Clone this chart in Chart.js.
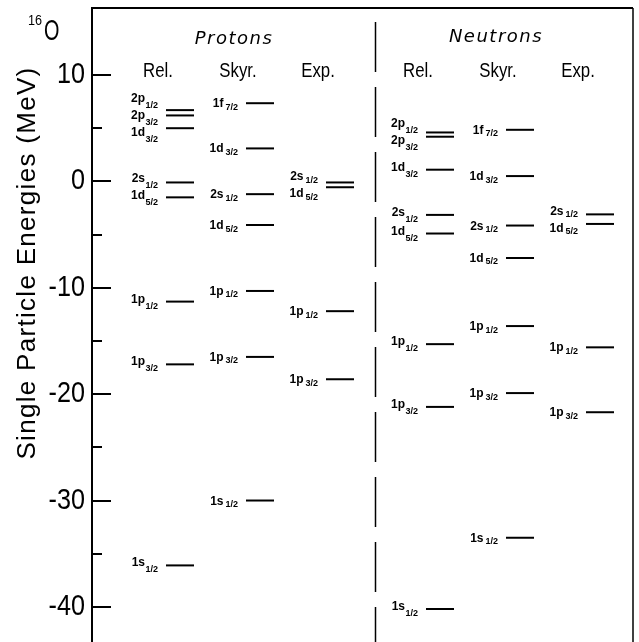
<!DOCTYPE html>
<html><head><meta charset="utf-8">
<script src="https://cdn.jsdelivr.net/npm/chart.js@4.4.1/dist/chart.umd.min.js"></script>
<style>html,body{margin:0;padding:0;background:#fff;}canvas{display:block;}</style>
</head><body>
<canvas id="c" width="639" height="642"></canvas>
<script>
// ---- data ----
const groupTitles = ['Protons', 'Neutrons'];
const columnTitles = ['Rel.', 'Skyr.', 'Exp.', 'Rel.', 'Skyr.', 'Exp.'];

const pRelNames  = ['2p1/2', '2p3/2', '1d3/2', '2s1/2', '1d5/2', '1p1/2', '1p3/2', '1s1/2'];
const pRelE      = [6.7, 6.2, 5.0, -0.1, -1.5, -11.3, -17.2, -36.1];
const pSkyrNames = ['1f7/2', '1d3/2', '2s1/2', '1d5/2', '1p1/2', '1p3/2', '1s1/2'];
const pSkyrE     = [7.35, 3.1, -1.2, -4.1, -10.3, -16.5, -30.0];
const pExpNames  = ['2s1/2', '1d5/2', '1p1/2', '1p3/2'];
const pExpE      = [-0.1, -0.55, -12.2, -18.6];

const nRelNames  = ['2p1/2', '2p3/2', '1d3/2', '2s1/2', '1d5/2', '1p1/2', '1p3/2', '1s1/2'];
const nRelE      = [4.6, 4.2, 1.1, -3.15, -4.9, -15.3, -21.2, -40.2];
const nSkyrNames = ['1f7/2', '1d3/2', '2s1/2', '1d5/2', '1p1/2', '1p3/2', '1s1/2'];
const nSkyrE     = [4.85, 0.5, -4.15, -7.2, -13.6, -19.9, -33.5];
const nExpNames  = ['2s1/2', '1d5/2', '1p1/2', '1p3/2'];
const nExpE      = [-3.1, -4.0, -15.6, -21.7];

const majorTicks = [10, 0, -10, -20, -30, -40];
const minorTicks = [5, -5, -15, -25, -35];
const yTitle = 'Single Particle Energies (MeV)';
const nucleusMass = '16', nucleusSym = 'O';

// ---- layout (not data) ----
const colNames = [pRelNames, pSkyrNames, pExpNames, nRelNames, nSkyrNames, nExpNames];
const colE = [pRelE, pSkyrE, pExpE, nRelE, nSkyrE, nExpE];
const colX = i => i + 1.1 + (i >= 3 ? 0.25 : 0);
const halfW = 0.175;
const dividerX = 3.54;

const datasets = [];
colE.forEach((arr, ci) => {
  arr.forEach(e => {
    datasets.push({
      data: [{x: colX(ci) - halfW, y: e}, {x: colX(ci) + halfW, y: e}],
      showLine: true, borderColor: '#000', borderWidth: 2, pointRadius: 0, fill: false
    });
  });
});

const SANS = '"Liberation Sans",Arimo,Arial,sans-serif';

function spread(ys, gap) {
  let cl = ys.map((y, i) => ({idx: [i], ys: [y], c: y})).sort((a, b) => a.c - b.c);
  let changed = true;
  while (changed) {
    changed = false;
    for (let k = 0; k < cl.length - 1; k++) {
      const A = cl[k], B = cl[k + 1];
      const aEnd = A.c + (A.idx.length - 1) * gap / 2;
      const bStart = B.c - (B.idx.length - 1) * gap / 2;
      if (bStart - aEnd < gap - 0.01) {
        const idx = A.idx.concat(B.idx), yy = A.ys.concat(B.ys);
        const m = yy.reduce((s, v) => s + v, 0) / yy.length;
        const pairs = idx.map((ii, j) => [ii, yy[j]]).sort((p, q) => p[1] - q[1]);
        cl.splice(k, 2, {idx: pairs.map(p => p[0]), ys: pairs.map(p => p[1]), c: m});
        changed = true; break;
      }
    }
  }
  const out = new Array(ys.length);
  cl.forEach(C => {
    const n = C.idx.length;
    C.idx.forEach((ii, j) => { out[ii] = C.c + (j - (n - 1) / 2) * gap; });
  });
  return out;
}

// draw horizontally condensed text
function nText(ctx, str, x, y, font, align, sx) {
  ctx.save();
  ctx.font = font;
  ctx.textAlign = align;
  ctx.translate(x, y);
  ctx.scale(sx, 1);
  ctx.fillText(str, 0, 0);
  ctx.restore();
}

const drawPlugin = {
  id: 'drawExtras',
  afterDraw(chart) {
    const {ctx, chartArea: a, scales: {x, y}} = chart;
    ctx.save();
    ctx.strokeStyle = '#000'; ctx.fillStyle = '#000';
    const seg = (x1, y1, x2, y2) => { ctx.beginPath(); ctx.moveTo(x1, y1); ctx.lineTo(x2, y2); ctx.stroke(); };
    // tick marks and tick labels
    ctx.lineWidth = 2;
    majorTicks.forEach(v => {
      const py = Math.round(y.getPixelForValue(v));
      seg(a.left, py, a.left + 19, py);
      ctx.textBaseline = 'middle';
      nText(ctx, String(v), a.left - 7, py, '30px ' + SANS, 'right', 0.84);
    });
    minorTicks.forEach(v => { const py = Math.round(y.getPixelForValue(v)); seg(a.left, py, a.left + 10, py); });
    ctx.textBaseline = 'alphabetic';
    // frame
    seg(a.left - 1, a.top, a.right, a.top);
    ctx.lineWidth = 1.5;
    seg(a.right, a.top, a.right, chart.height);
    // divider
    ctx.lineWidth = 1.5;
    ctx.setLineDash([50, 15]);
    const dx = Math.round(x.getPixelForValue(dividerX)) + 0.5;
    seg(dx, 22, dx, chart.height);
    ctx.setLineDash([]);

    // group and column titles
    ctx.textAlign = 'center';
    ctx.font = 'oblique 18px "DejaVu Sans",sans-serif';
    ctx.letterSpacing = '1.5px';
    ctx.fillText(groupTitles[0], x.getPixelForValue(colX(1)) - 26, 44);
    ctx.fillText(groupTitles[1], x.getPixelForValue(colX(4)) - 24, 42);
    ctx.letterSpacing = '0px';
    columnTitles.forEach((t, i) => {
      nText(ctx, t, x.getPixelForValue(colX(i)) - 22, 77, '20px ' + SANS, 'center', 0.84);
    });

    // level labels
    colNames.forEach((names, ci) => {
      const isRel = (ci % 3 === 0);
      const pys = colE[ci].map(e => y.getPixelForValue(e));
      const ly = spread(pys, 17);
      const right = x.getPixelForValue(colX(ci) - halfW) - 8;
      names.forEach((nm, k) => {
        const main = nm.slice(0, 2), sub = nm.slice(2);
        ctx.font = 'bold 9px ' + SANS;
        const ws = ctx.measureText(sub).width;
        ctx.font = 'bold 12px ' + SANS;
        const gap = isRel ? 0.5 : 2;
        ctx.textAlign = 'right';
        const yy = ly[k];
        ctx.fillText(main, right - ws - gap, isRel ? yy + 1 : yy + 4);
        ctx.font = 'bold 9px ' + SANS;
        ctx.fillText(sub, right, isRel ? yy + 7 : yy + 6.5);
      });
    });

    // nucleus label
    nText(ctx, nucleusMass, 28, 25, '14px ' + SANS, 'left', 0.9);
    nText(ctx, nucleusSym, 44, 40, '30px ' + SANS, 'left', 0.66);

    // y title
    ctx.save();
    ctx.translate(35, 263);
    ctx.rotate(-Math.PI / 2);
    ctx.textAlign = 'center';
    ctx.font = '26px ' + SANS;
    ctx.letterSpacing = '1.3px';
    ctx.fillText(yTitle, 0, 0);
    ctx.restore();
    ctx.restore();
  }
};

new Chart(document.getElementById('c'), {
  type: 'scatter',
  data: {datasets},
  options: {
    responsive: false, animation: false, devicePixelRatio: 1,
    layout: {padding: {left: 0, right: 6, top: 8, bottom: 0}},
    plugins: {legend: {display: false}, tooltip: {enabled: false}},
    scales: {
      x: {type: 'linear', min: 0, max: 6.7625, display: false},
      y: {
        type: 'linear', position: 'left', min: -43.3, max: 16.3,
        afterBuildTicks: s => { s.ticks = majorTicks.concat(minorTicks).sort((p, q) => p - q).map(v => ({value: v})); },
        afterFit: s => { s.width = 92; s.paddingTop = 0; s.paddingBottom = 0; },
        grid: {display: false, drawTicks: false},
        border: {display: true, color: '#000', width: 2},
        ticks: {display: false}
      }
    }
  },
  plugins: [drawPlugin]
});
</script>
</body></html>
